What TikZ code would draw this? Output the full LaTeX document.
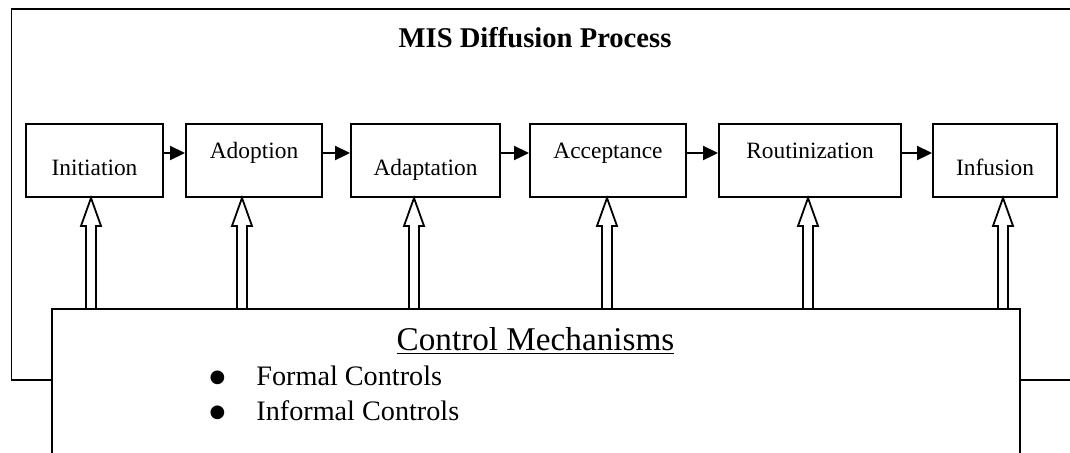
\documentclass[tikz,border=0pt]{standalone}
\usepackage{fontspec}
\setmainfont{Liberation Serif}
\newfontfamily\symfont{DejaVu Sans}
\usetikzlibrary{arrows.meta,positioning}

\newcommand{\bigbullet}{\makebox[22pt]{\raisebox{1.3pt}{\symfont\fontsize{9}{9}\selectfont ●}}\hspace{8.5pt}}

\begin{document}
\begin{tikzpicture}[x=0.5pt,y=-0.5pt]
    \tikzset{stage/.style={draw, line width=0.95pt, minimum height=36.5pt, inner sep=0pt,
            font=\fontsize{11.7}{14}\selectfont},
        low/.style={text height=14.5pt, text depth=0pt},
        high/.style={text height=8pt, text depth=10.5pt},
        flow/.style={line width=0.95pt, -{Triangle[length=7.5pt,width=7pt]}},
        hollow/.style={draw, line width=0.9pt, fill=white, line join=miter},
        ctrlbox/.style={draw, line width=0.9pt, fill=white, minimum width=484pt,
            minimum height=95.5pt, inner sep=0pt},
        item/.style={anchor=base west, inner sep=0pt, font=\fontsize{14.1}{17}\selectfont},}
    \useasboundingbox (0,0) rectangle (1070,452);
    \clip (0,0) rectangle (1070,452);

    % outer frame and title
    \draw[line width=0.9pt] (11.5,9) rectangle (1090,380);
    \node[anchor=base, inner sep=0pt, font=\bfseries\fontsize{14.3}{17}\selectfont] (title) at (535,47) {MIS Diffusion Process};

    % diffusion stages
    \node[stage, low, minimum width=68.5pt] (init) at (94.5,160.5) {Initiation};
    \node[stage, high, minimum width=68pt] (adop) at (254,160.5) {Adoption};
    \node[stage, low, minimum width=74.5pt] (adap) at (425.5,160.5) {Adaptation};
    \node[stage, high, minimum width=78pt] (acc) at (608,160.5) {Acceptance};
    \node[stage, high, minimum width=91pt] (rout) at (810,160.5) {Routinization};
    \node[stage, low, minimum width=62pt] (inf) at (995,160.5) {Infusion};

    \foreach \a/\b in {init/adop, adop/adap, adap/acc, acc/rout, rout/inf}
        \draw[flow] ([yshift=3.75pt]\a.east) -- ([yshift=3.75pt]\b.west);

    % hollow arrows from the controls
    \foreach \n/\dx in {init/-3.5, adop/-12, adap/-11.5, acc/-1, rout/-2, inf/8}
        \draw[hollow] ([xshift=\dx*0.5pt]\n.south) -- ++(10,28) -- ++(-5,0) -- ++(0,84)
            -- ++(-10,0) -- ++(0,-84) -- ++(-5,0) -- cycle;

    % control mechanisms
    \node[ctrlbox] (ctrl) at (536,404.5) {};
    \node[anchor=base, inner sep=0pt, font=\fontsize{16.6}{20}\selectfont] (cmtitle) at (535.5,350) {\underline{Control Mechanisms}};
    \node[item] (formal) at (195,385) {\bigbullet Formal Controls};
    \node[item] (informal) at (195,420) {\bigbullet Informal Controls};
\end{tikzpicture}
\end{document}
